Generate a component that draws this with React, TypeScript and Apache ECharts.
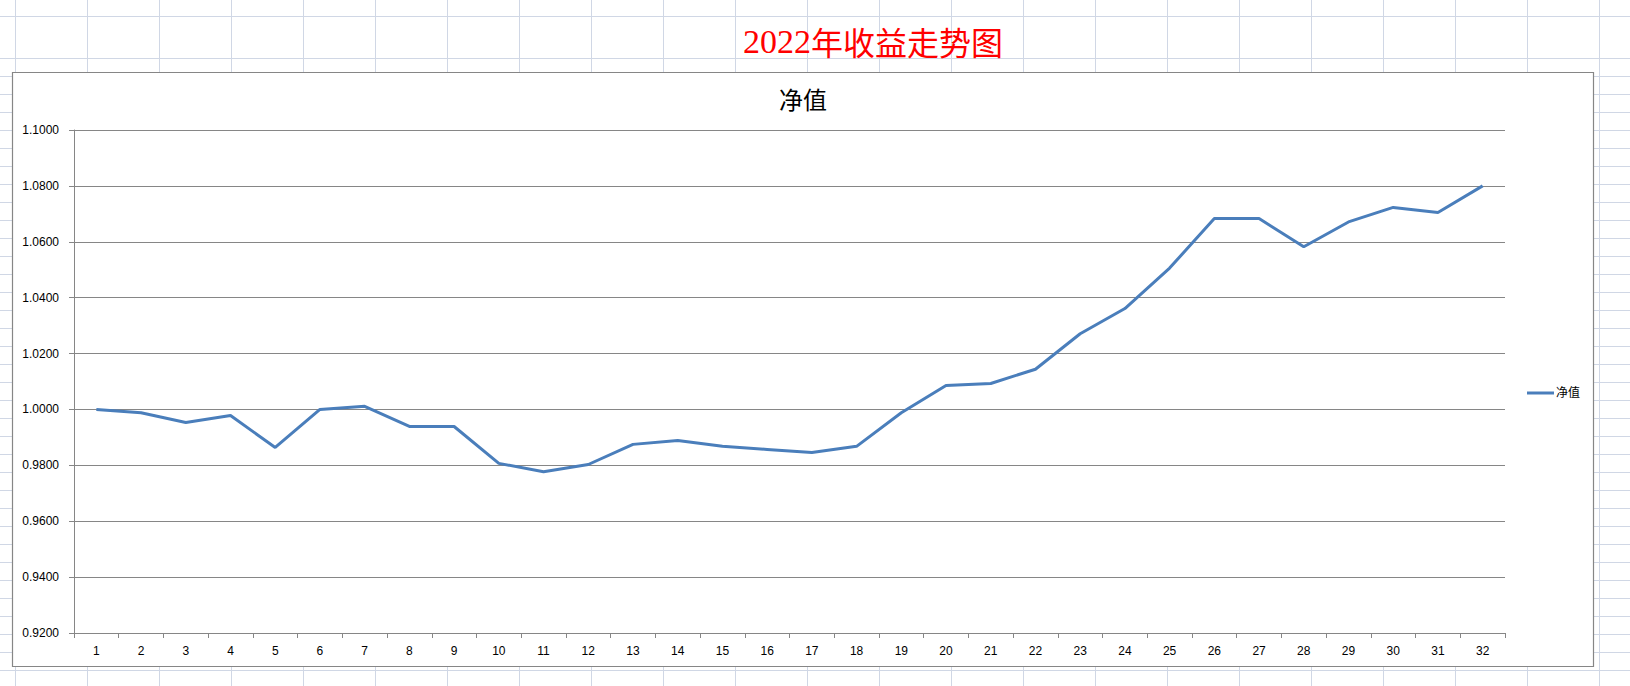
import React, { useEffect, useRef } from "react";
import * as echarts from "echarts";

const pageTitle = "2022年收益走势图";
const chartTitle = "净值";
const seriesName = "净值";
const categories = [
  "1", "2", "3", "4", "5", "6", "7", "8", "9", "10", "11", "12", "13", "14", "15", "16",
  "17", "18", "19", "20", "21", "22", "23", "24", "25", "26", "27", "28", "29", "30", "31", "32",
];
const netValues = [
  1.0, 0.9988, 0.9953, 0.9978, 0.9864, 1.0, 1.0011, 0.9939, 0.9939, 0.9807, 0.9777, 0.9803,
  0.9875, 0.9889, 0.9868, 0.9857, 0.9846, 0.9868, 0.9988, 1.0086, 1.0093, 1.0144, 1.0271,
  1.0361, 1.0506, 1.0683, 1.0683, 1.0582, 1.0671, 1.0723, 1.0705, 1.08,
];
const yMin = 0.92;
const yMax = 1.1;
const yStep = 0.02;

const W = 1630;
const H = 686;

function sheetLines() {
  const els: any[] = [];
  for (let x = 15.5; x < W; x += 72) {
    els.push({
      type: "line",
      z: -10,
      shape: { x1: x, y1: 0, x2: x, y2: H },
      style: { stroke: "#D0D7E5", lineWidth: 1 },
    });
  }
  const rows = [16.5];
  for (let y = 58.5; y < H; y += 18) rows.push(y);
  rows.forEach((y) =>
    els.push({
      type: "line",
      z: -10,
      shape: { x1: 0, y1: y, x2: W, y2: y },
      style: { stroke: "#D0D7E5", lineWidth: 1 },
    })
  );
  return els;
}

export default function App() {
  const ref = useRef<HTMLDivElement>(null);
  useEffect(() => {
    if (!ref.current) return;
    const chart = echarts.init(ref.current, null, { renderer: "svg" });
    const font = "Liberation Sans, Noto Sans CJK SC, sans-serif";
    const digits = pageTitle.slice(0, 4);
    const rest = pageTitle.slice(4);
    chart.setOption({
      animation: false,
      backgroundColor: "#ffffff",
      graphic: [
        ...sheetLines(),
        {
          type: "rect",
          z: -5,
          shape: { x: 12.5, y: 72.5, width: 1581, height: 594 },
          style: { fill: "#ffffff", stroke: "#868686", lineWidth: 1.2 },
        },
        {
          type: "text",
          z: 5,
          x: 873,
          y: 41,
          style: {
            text: `{d|${digits}}{c|${rest}}`,
            fill: "#FF0000",
            fontSize: 32,
            textAlign: "center",
            textVerticalAlign: "middle",
            rich: {
              d: { fontFamily: "Liberation Serif", fontSize: 34, fill: "#FF0000" },
              c: { fontFamily: "Noto Sans CJK SC", fontSize: 32, fill: "#FF0000" },
            },
          },
        },
        {
          type: "text",
          z: 5,
          x: 803,
          y: 98,
          style: {
            text: chartTitle,
            fill: "#000000",
            fontSize: 24,
            fontFamily: "Noto Sans CJK SC, sans-serif",
            textAlign: "center",
            textVerticalAlign: "middle",
          },
        },
      ],
      grid: { left: 74, right: 125, top: 130, bottom: 53, containLabel: false },
      legend: {
        data: [{ name: seriesName, icon: "rect" }],
        left: 1522,
        top: 382,
        orient: "vertical",
        itemWidth: 27,
        itemHeight: 3,
        textStyle: { fontSize: 12, color: "#000", fontFamily: font, padding: [0, 0, 0, -3] },
      },
      xAxis: {
        type: "category",
        data: categories,
        boundaryGap: true,
        axisLine: { show: true, lineStyle: { color: "#868686", width: 1 } },
        axisTick: { show: true, alignWithLabel: false, length: 5, lineStyle: { color: "#868686" } },
        axisLabel: { color: "#000", fontSize: 12, fontFamily: font, margin: 12, interval: 0 },
        splitLine: { show: false },
      },
      yAxis: {
        type: "value",
        min: yMin,
        max: yMax,
        interval: yStep,
        axisLine: { show: true, lineStyle: { color: "#868686", width: 1 } },
        axisTick: { show: true, length: 5, lineStyle: { color: "#868686" } },
        axisLabel: {
          color: "#000",
          fontSize: 12,
          fontFamily: font,
          margin: 15,
          formatter: (v: number) => v.toFixed(4),
        },
        splitLine: { show: true, lineStyle: { color: "#868686", width: 1 } },
      },
      series: [
        {
          name: seriesName,
          type: "line",
          data: netValues,
          symbol: "none",
          smooth: false,
          itemStyle: { color: "#4A7EBB" },
          lineStyle: { color: "#4A7EBB", width: 3 },
        },
      ],
    });
    return () => chart.dispose();
  }, []);
  return (
    <div
      ref={ref}
      style={{ position: "fixed", left: 0, top: 0, width: W, height: H }}
    />
  );
}
